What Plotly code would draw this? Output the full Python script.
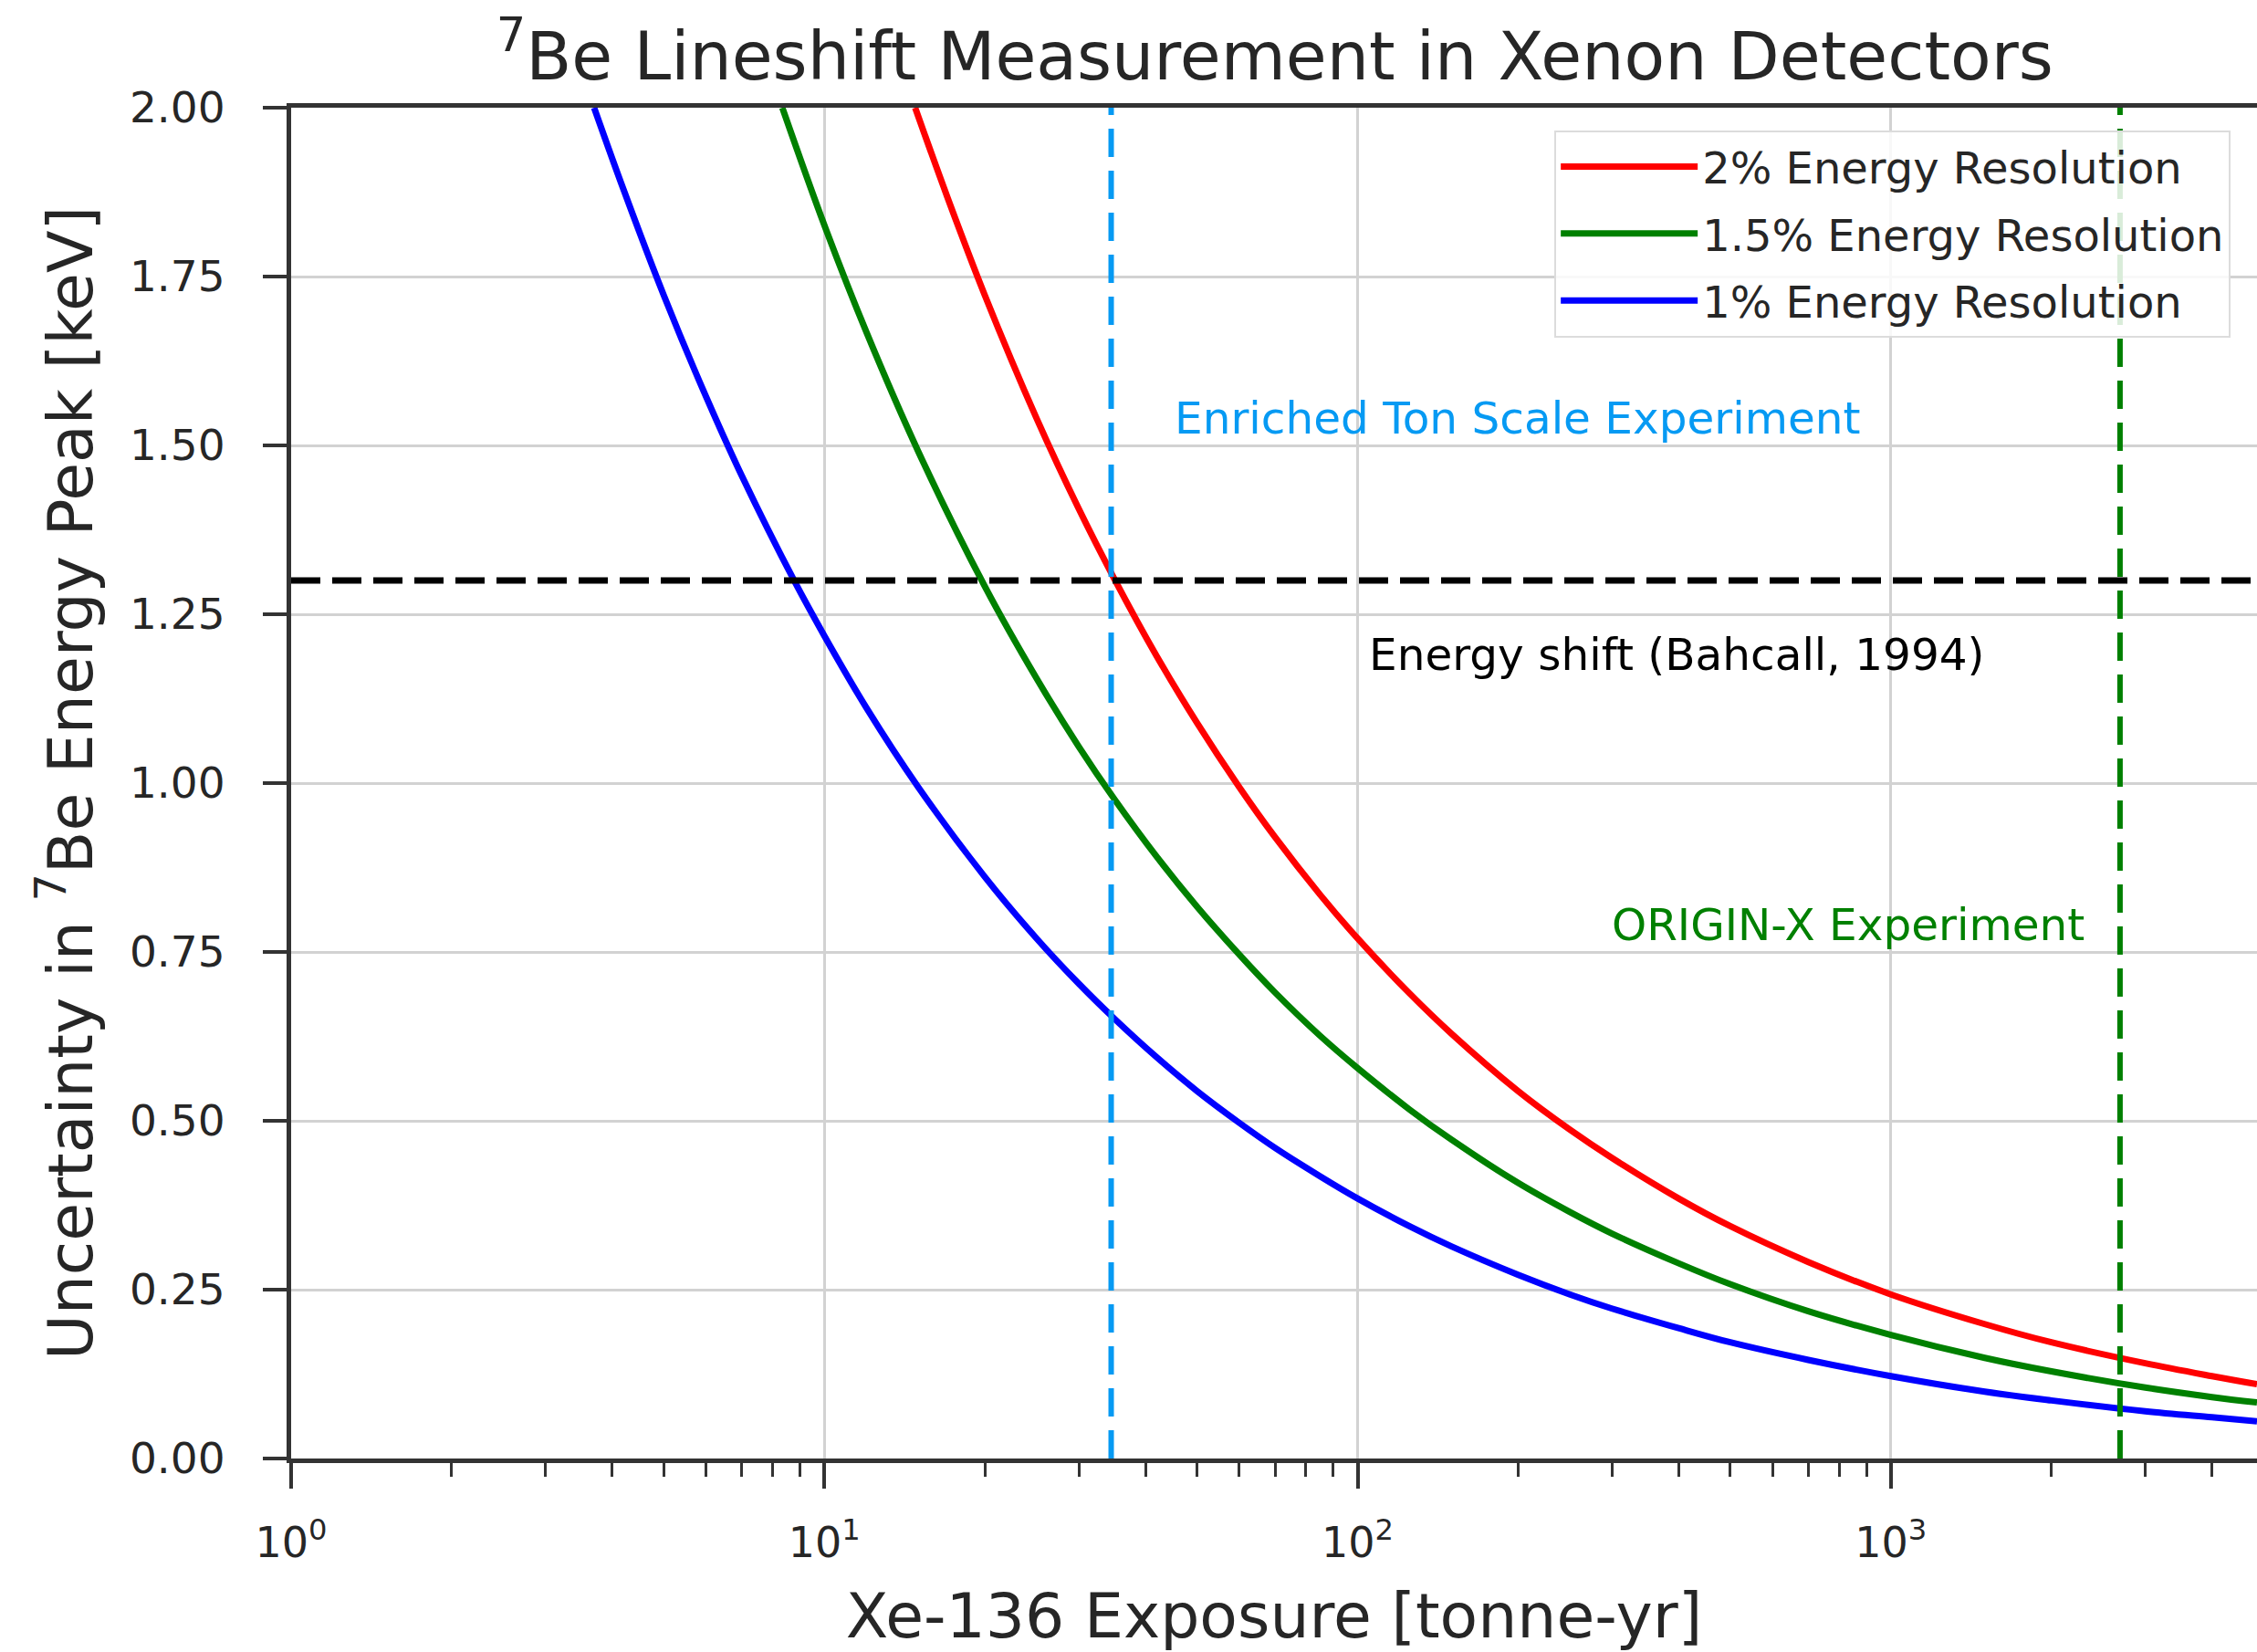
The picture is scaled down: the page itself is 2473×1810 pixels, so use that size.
import plotly.graph_objects as go
import math

# ---------------- data ----------------
red_exposure = [14.8, 17, 20, 25, 30, 35, 42, 50, 60, 70, 85, 100, 125, 150, 200, 250,
                300, 400, 500, 700, 1000, 1500, 2000, 3000, 4000, 4860]
red_sigma = [2.000, 1.868, 1.722, 1.540, 1.406, 1.302, 1.188, 1.089, 0.994, 0.920, 0.835,
             0.770, 0.689, 0.629, 0.544, 0.487, 0.445, 0.385, 0.344, 0.291, 0.243, 0.199,
             0.172, 0.141, 0.122, 0.110]

green_exposure = [8.34, 10, 12, 15, 20, 25, 30, 35, 42, 50, 60, 70, 85, 100, 125, 150, 200,
                  250, 300, 400, 500, 700, 1000, 1500, 2000, 3000, 4000, 4860]
green_sigma = [2.000, 1.826, 1.667, 1.491, 1.291, 1.155, 1.054, 0.976, 0.891, 0.817, 0.746,
               0.690, 0.626, 0.578, 0.517, 0.472, 0.408, 0.365, 0.333, 0.289, 0.258, 0.218,
               0.183, 0.149, 0.129, 0.105, 0.091, 0.083]

blue_exposure = [3.7, 4.2, 5, 6, 7, 8.8, 10, 12, 15, 20, 25, 30, 35, 42, 50, 60, 70, 85, 100,
                 125, 150, 200, 250, 300, 400, 500, 700, 1000, 1500, 2000, 3000, 4000, 4860]
blue_sigma = [2.000, 1.879, 1.722, 1.572, 1.455, 1.298, 1.218, 1.111, 0.994, 0.861, 0.770,
              0.703, 0.651, 0.594, 0.544, 0.497, 0.460, 0.418, 0.385, 0.344, 0.314, 0.272,
              0.243, 0.222, 0.193, 0.172, 0.146, 0.122, 0.099, 0.086, 0.070, 0.061, 0.055]

series_names = ["2% Energy Resolution", "1.5% Energy Resolution", "1% Energy Resolution"]

energy_shift_kev = 1.3            # Bahcall 1994
enriched_exposure = 34.5          # Enriched ton scale experiment
origin_x_exposure = 2690          # ORIGIN-X experiment

x_limits = [1, 4860]
y_limits = [0, 2.0]
y_ticks = [0.00, 0.25, 0.50, 0.75, 1.00, 1.25, 1.50, 1.75, 2.00]
x_ticks = [1, 10, 100, 1000]
x_tick_labels = ["10<sup>0</sup>", "10<sup>1</sup>", "10<sup>2</sup>", "10<sup>3</sup>"]

# ---------------- style ----------------
FONT = "DejaVu Sans"
TXT = "#262626"
AX = "#333333"
AZURE = "#069af3"
LW = 7

fig = go.Figure()

for xs, ys, name, col in [(red_exposure, red_sigma, series_names[0], "#ff0000"),
                          (green_exposure, green_sigma, series_names[1], "#008000"),
                          (blue_exposure, blue_sigma, series_names[2], "#0000ff")]:
    fig.add_trace(go.Scatter(x=xs, y=ys, mode="lines", name=name, legendgroup=name,
                             line=dict(color=col, width=LW, shape="spline", smoothing=1.0)))

# reference lines
fig.add_trace(go.Scatter(x=x_limits, y=[energy_shift_kev, energy_shift_kev], mode="lines",
                         showlegend=False, line=dict(color="black", width=7, dash="32px,13px")))
fig.add_trace(go.Scatter(x=[enriched_exposure, enriched_exposure], y=y_limits, mode="lines",
                         showlegend=False, line=dict(color=AZURE, width=6, dash="31px,15px")))
fig.add_trace(go.Scatter(x=[origin_x_exposure, origin_x_exposure], y=y_limits, mode="lines",
                         showlegend=False, line=dict(color="#008000", width=6, dash="31px,15px")))

# text annotations (log axis -> log10 positions)
annos = [
    (45, 1.54, "Enriched Ton Scale Experiment", AZURE),
    (104, 1.19, "Energy shift (Bahcall, 1994)", "black"),
    (297, 0.79, "ORIGIN-X Experiment", "#008000"),
]
for ax_, ay_, txt, col in annos:
    fig.add_annotation(x=math.log10(ax_), y=ay_, xref="x", yref="y", text=txt,
                       showarrow=False, xanchor="left", yanchor="middle",
                       font=dict(family=FONT, size=48.5, color=col))

minor_vals = [m * 10 ** k for k in range(0, 4) for m in range(2, 10)]

fig.update_xaxes(type="log", range=[math.log10(x_limits[0]), math.log10(x_limits[1])],
                 tickvals=x_ticks, ticktext=x_tick_labels,
                 showline=True, linecolor=AX, linewidth=5, mirror=True,
                 ticks="outside", ticklen=28, tickwidth=4, tickcolor=AX,
                 showgrid=True, gridcolor="#d2d2d2", gridwidth=2.5,
                 zeroline=False,
                 minor=dict(tickvals=minor_vals, ticks="outside", ticklen=15, tickwidth=3,
                            tickcolor=AX, showgrid=False),
                 tickfont=dict(family=FONT, size=46, color=TXT),
                 ticklabelstandoff=20,
                 title=dict(text="Xe-136 Exposure [tonne-yr]",
                            font=dict(family=FONT, size=68, color=TXT), standoff=38))

fig.update_yaxes(range=y_limits, tickvals=y_ticks, tickformat=".2f",
                 showline=True, linecolor=AX, linewidth=5, mirror=False,
                 ticks="outside", ticklen=26, tickwidth=4, tickcolor=AX,
                 showgrid=True, gridcolor="#d2d2d2", gridwidth=2.5,
                 zeroline=False,
                 tickfont=dict(family=FONT, size=47, color=TXT),
                 ticklabelstandoff=32,
                 title=dict(text="Uncertainty in <sup>7</sup>Be Energy Peak [keV]",
                            font=dict(family=FONT, size=68, color=TXT), standoff=20))

fig.update_layout(
    width=2473, height=1810,
    margin=dict(l=319, r=0, t=118, b=212),
    paper_bgcolor="white", plot_bgcolor="white",
    font=dict(family=FONT, color=TXT),
    title=dict(text="<sup>7</sup>Be Lineshift Measurement in Xenon Detectors",
               font=dict(family=FONT, size=73, color=TXT),
               x=0.5648, xanchor="center", y=0.966, yref="container", yanchor="middle"),
    legend=dict(x=0.6426, y=0.9833, xanchor="left", yanchor="top",
                bgcolor="rgba(255,255,255,0.85)", bordercolor="#dcdcdc", borderwidth=2,
                font=dict(family=FONT, size=48, color=TXT),
                traceorder="grouped", tracegroupgap=8, itemwidth=150),
    showlegend=True,
)

fig.write_html("out.html")
